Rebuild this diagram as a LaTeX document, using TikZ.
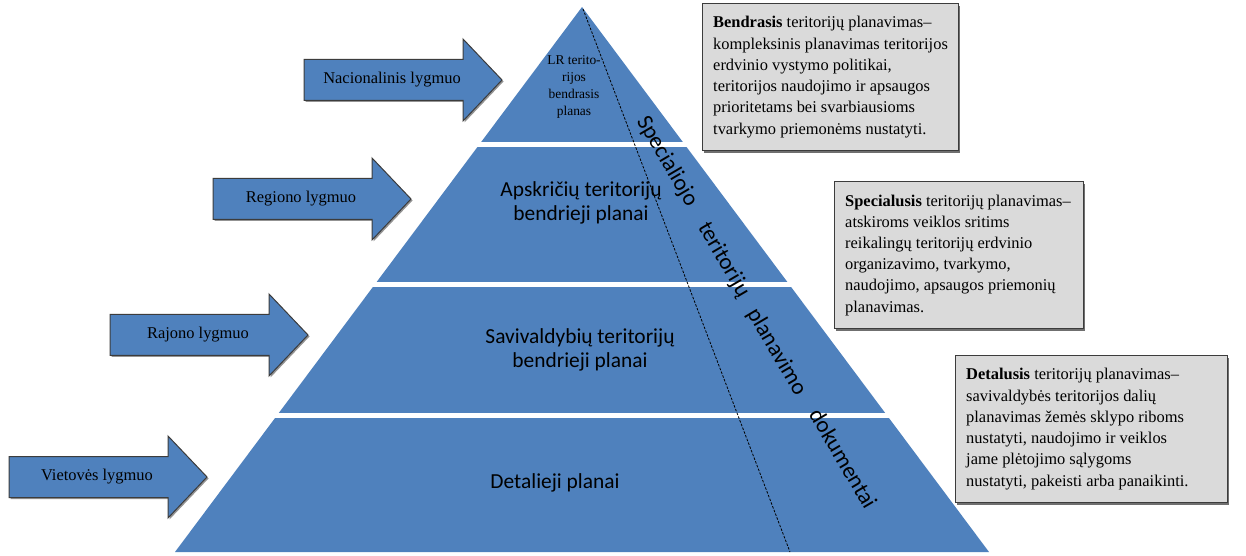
\documentclass[tikz,border=0pt]{standalone}
\usepackage{fontspec}
\setmainfont{Liberation Serif}
\newfontfamily\calib{Carlito}
\usetikzlibrary{shadows}
\definecolor{pblue}{RGB}{79,129,189}
\definecolor{boxgray}{RGB}{218,218,218}
\definecolor{edgegray}{RGB}{60,60,60}
\newcommand\lvlarrow[4]{%
  \draw[lvlshape] (#1,#2-20.5) -- ++(159,0) -- ++(0,-20.5) -- (#1+198,#2)
    -- (#1+159,#2+41) -- ++(0,-20.5) -- (#1,#2+20.5) -- cycle;
  \node[arrowlbl] (#3) at (#1+88,#2) {#4};}
\begin{document}
\begin{tikzpicture}[x=1bp,y=-1bp,
  lvlshape/.style={fill=pblue, draw=edgegray, line width=1bp, line join=miter,
    drop shadow={shadow xshift=1.5bp, shadow yshift=-1.5bp, fill=black!60, opacity=0.7}},
  arrowlbl/.style={font=\fontsize{16.5}{19}\selectfont, inner sep=0pt},
  infobox/.style={fill=boxgray, draw=edgegray, line width=1.2bp, anchor=north west,
    inner sep=0pt,
    drop shadow={shadow xshift=1.5bp, shadow yshift=-2bp, fill=black!70, opacity=0.8}},
  infotext/.style={anchor=west, align=left, inner sep=0pt,
    font=\fontsize{16.5}{21.3}\selectfont},
  pyrtext/.style={font=\calib\fontsize{21.5}{24.5}\selectfont, align=center, inner sep=0pt},
  rottext/.style={font=\calib\fontsize{23}{26}\selectfont, rotate=-59.5, inner sep=0pt},
  dashline/.style={line width=0.8bp, dash pattern=on 2.5bp off 1.5bp}]
\useasboundingbox (0,0) rectangle (1246,556);
\fill[white] (0,0) rectangle (1246,556);

% pyramid
\begin{scope}
  \clip (582,7) -- (989,552) -- (175,552) -- cycle;
  \fill[pblue] (100,0) rectangle (1100,142);
  \fill[pblue] (100,147) rectangle (1100,282);
  \fill[pblue] (100,287) rectangle (1100,413);
  \fill[pblue] (100,418) rectangle (1100,553);
\end{scope}

\coordinate (dtop) at (583,9);
\coordinate (dbot) at (790,552);
\draw[dashline] (dtop) -- (dbot);

\node[font=\fontsize{13.5}{17}\selectfont, align=center, inner sep=0pt] (lr) at (574,87)
  {LR terito-\\rijos\\bendrasis\\planas};
\node[pyrtext] (aps) at (581,203) {Apskričių teritorijų\\bendrieji planai};
\node[pyrtext] (sav) at (580,350) {Savivaldybių teritorijų\\bendrieji planai};
\node[pyrtext] (det) at (555,483) {Detalieji planai};

\node[rottext] (w1) at (667,161.5) {Specialiojo};
\node[rottext] (w2) at (723.5,260) {teritorijų};
\node[rottext] (w3) at (776.5,352) {planavimo};
\node[rottext] (w4) at (843.5,458.5) {dokumentai};

% level arrows
\lvlarrow{304}{80}{a1}{Nacionalinis lygmuo}
\lvlarrow{213}{199}{a2}{Regiono lygmuo}
\lvlarrow{110}{335}{a3}{Rajono lygmuo}
\lvlarrow{9}{477}{a4}{Vietovės lygmuo}

% info boxes
\node[infobox, minimum width=256bp, minimum height=147bp] (b1) at (702,3) {};
\node[infotext] (t1) at ([xshift=11bp]b1.west)
  {\textbf{Bendrasis} teritorijų planavimas–\\
   kompleksinis planavimas teritorijos\\
   erdvinio vystymo politikai,\\
   teritorijos naudojimo ir apsaugos\\
   prioritetams bei svarbiausioms\\
   tvarkymo priemonėms nustatyti.};
\node[infobox, minimum width=249bp, minimum height=147bp] (b2) at (834,181) {};
\node[infotext] (t2) at ([xshift=11bp]b2.west)
  {\textbf{Specialusis} teritorijų planavimas–\\
   atskiroms veiklos sritims\\
   reikalingų teritorijų erdvinio\\
   organizavimo, tvarkymo,\\
   naudojimo, apsaugos priemonių\\
   planavimas.};
\node[infobox, minimum width=272bp, minimum height=147bp] (b3) at (955,355) {};
\node[infotext] (t3) at ([xshift=11bp]b3.west)
  {\textbf{Detalusis} teritorijų planavimas–\\
   savivaldybės teritorijos dalių\\
   planavimas žemės sklypo riboms\\
   nustatyti, naudojimo ir veiklos\\
   jame plėtojimo sąlygoms\\
   nustatyti, pakeisti arba panaikinti.};
\end{tikzpicture}
\end{document}
